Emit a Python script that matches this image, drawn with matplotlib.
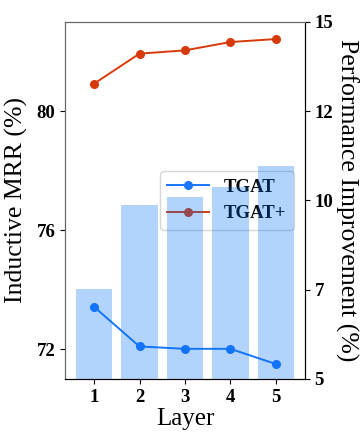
import matplotlib
matplotlib.use("Agg")
import matplotlib.pyplot as plt
from matplotlib.ticker import FormatStrFormatter

layers = [1, 2, 3, 4, 5]
tgat_mrr = [73.42, 72.09, 72.01, 72.01, 71.50]
tgat_plus_mrr = [80.92, 81.93, 82.04, 82.32, 82.42]
improvement = [7.52, 9.87, 10.08, 10.36, 10.97]

plt.rcParams['font.family'] = ['Liberation Serif', 'DejaVu Serif']

fig, ax = plt.subplots(figsize=(3.63, 4.36), dpi=100)
fig.subplots_adjust(left=0.179, right=0.840, top=0.950, bottom=0.131)

ax.plot(layers, tgat_mrr, '-o', color='#1a75ff', markersize=5.5, lw=1.4, label='TGAT')
ax.plot(layers, tgat_plus_mrr, '-o', color='#d63a0a', markersize=5.5, lw=1.4, label='TGAT+')
ax.set_ylim(71, 83)
ax.set_yticks([72, 76, 80])
ax.set_ylabel('Inductive MRR (%)', fontsize=18.5, labelpad=6)
ax.set_xlabel('Layer', fontsize=18, labelpad=2)
ax.set_xticks(layers)
leg = ax.legend(loc='center right', prop={'weight': 'bold', 'size': 13.5},
                handlelength=2.2, borderaxespad=0.6)

# bars sit on the twin axis, drawn over the lines and legend
ax2 = ax.twinx()
ax2.bar(layers, improvement, width=0.8, color='#0070f5', alpha=0.3)
ax2.set_ylim(5, 15)
ax2.set_yticks([5, 7.5, 10, 12.5, 15])
ax2.yaxis.set_major_formatter(FormatStrFormatter('%d'))
ax2.set_ylabel('Performance Improvement (%)', fontsize=18.5, rotation=270,
               va='center', ha='center')
ax2.yaxis.set_label_coords(1.175, 0.5)

for a in (ax, ax2):
    for lab in a.get_xticklabels() + a.get_yticklabels():
        lab.set_fontweight('bold')
        lab.set_fontsize(13.5)
    a.spines['top'].set_color('#666666')
    a.spines['left'].set_color('#666666')

fig.savefig('out.png', dpi=100)
